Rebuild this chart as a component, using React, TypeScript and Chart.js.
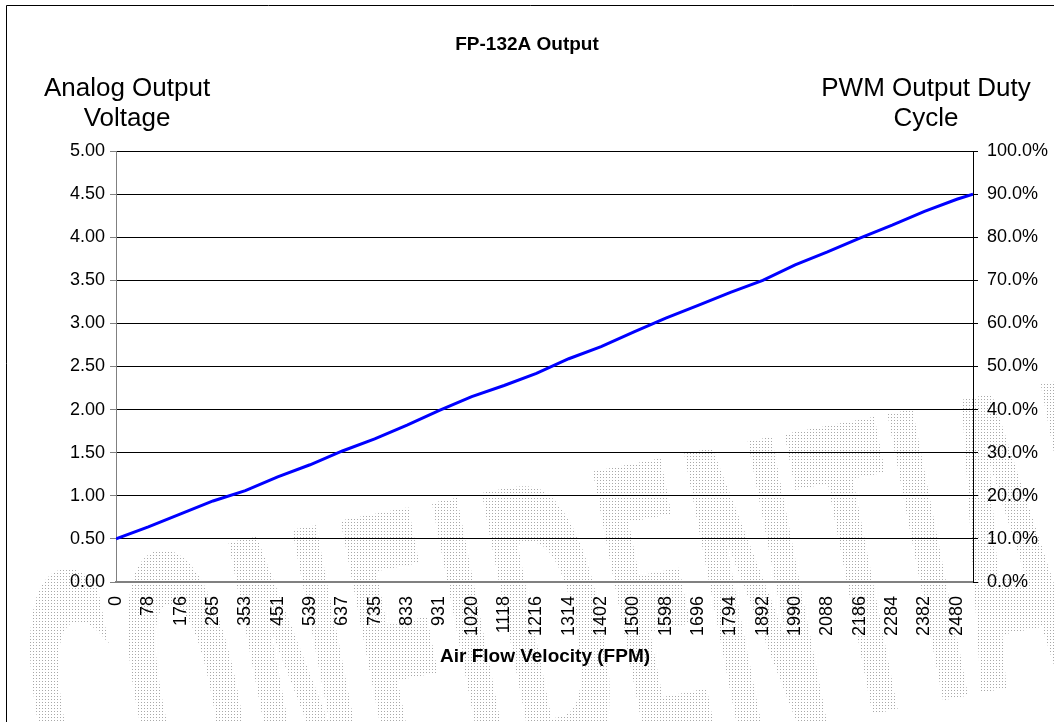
import React, { useEffect, useRef } from 'react';
import { Chart, registerables } from 'chart.js';

Chart.register(...registerables);

// ---- Data ----
const chartTitle = 'FP-132A Output';
const leftAxisTitle = ['Analog Output', 'Voltage'];
const rightAxisTitle = ['PWM Output Duty', 'Cycle'];
const xAxisTitle = 'Air Flow Velocity (FPM)';
const watermarkText = 'CONFIDENTIAL';

// Category tick labels (FPM), one per labelled category slot
const xTickLabels = [
  '0', '78', '176', '265', '353', '451', '539', '637', '735', '833', '931',
  '1020', '1118', '1216', '1314', '1402', '1500', '1598', '1696', '1794',
  '1892', '1990', '2088', '2186', '2284', '2382', '2480',
];

// Position of each sample, in labelled-category slots (last sample sits half a slot past 2480)
const samplePositions = [
  0, 1, 2, 3, 4, 5, 6, 7, 8, 9, 10, 11, 12, 13, 14, 15, 16, 17, 18, 19, 20,
  21, 22, 23, 24, 25, 26, 26.5,
];

// Analog output voltage read at each sample
const outputVoltage = [
  0.5, 0.64, 0.79, 0.94, 1.06, 1.22, 1.36, 1.52, 1.66, 1.82, 1.99, 2.15,
  2.28, 2.42, 2.59, 2.73, 2.9, 3.06, 3.21, 3.36, 3.5, 3.68, 3.83, 3.99,
  4.14, 4.3, 4.44, 4.5,
];

const voltageMin = 0;
const voltageMax = 5;
const voltageStep = 0.5;
const dutyMin = 0;
const dutyMax = 100;
const dutyStep = 10;

const FONT = '"Liberation Sans", Arial, sans-serif';

const decorPlugin = {
  id: 'decor',
  beforeDraw(chart: any) {
    const ctx: CanvasRenderingContext2D = chart.ctx;
    const w = chart.width;
    const h = chart.height;
    ctx.save();
    ctx.fillStyle = '#ffffff';
    ctx.fillRect(0, 0, w, h);

    // stippled watermark
    const off = document.createElement('canvas');
    off.width = w;
    off.height = h;
    const o = off.getContext('2d') as CanvasRenderingContext2D;
    o.translate(60, 872);
    o.rotate((-11 * Math.PI) / 180);
    o.font = 'bold 100px "Liberation Sans Narrow", "DejaVu Sans Condensed", sans-serif';
    const mw = o.measureText(watermarkText).width;
    o.scale(1130 / mw, 4.0);
    o.fillStyle = '#000';
    o.textBaseline = 'alphabetic';
    o.fillText(watermarkText, 0, 0);
    o.setTransform(1, 0, 0, 1, 0, 0);
    o.globalCompositeOperation = 'source-in';
    const tile = document.createElement('canvas');
    tile.width = 3;
    tile.height = 3;
    const t = tile.getContext('2d') as CanvasRenderingContext2D;
    t.fillStyle = '#a8a8a8';
    t.fillRect(0, 0, 1, 1);
    const pat = o.createPattern(tile, 'repeat');
    if (pat) o.fillStyle = pat;
    o.fillRect(0, 0, w, h);
    ctx.drawImage(off, 0, 0);

    // chart border (top/left visible)
    ctx.strokeStyle = '#000';
    ctx.lineWidth = 1;
    ctx.beginPath();
    ctx.moveTo(6.5, h);
    ctx.lineTo(6.5, 5.5);
    ctx.lineTo(w, 5.5);
    ctx.stroke();

    // titles
    ctx.fillStyle = '#000';
    ctx.textAlign = 'center';
    ctx.textBaseline = 'middle';
    ctx.font = `bold 19px ${FONT}`;
    ctx.fillText(chartTitle, 527, 45);
    ctx.font = `26px ${FONT}`;
    ctx.fillText(leftAxisTitle[0], 127, 89);
    ctx.fillText(leftAxisTitle[1], 127, 119);
    ctx.fillText(rightAxisTitle[0], 926, 89);
    ctx.fillText(rightAxisTitle[1], 926, 119);
    ctx.font = `bold 19px ${FONT}`;
    ctx.fillText(xAxisTitle, 545, 657);
    ctx.restore();
  },
};

export default function App() {
  const ref = useRef<HTMLCanvasElement | null>(null);

  useEffect(() => {
    if (!ref.current) return;
    const tickFont = { family: FONT, size: 18 };
    const chart = new Chart(ref.current, {
      type: 'line',
      data: {
        datasets: [
          {
            label: 'Analog Output Voltage',
            data: samplePositions.map((x, i) => ({ x, y: outputVoltage[i] })),
            borderColor: '#0000ff',
            borderWidth: 3,
            pointRadius: 0,
            tension: 0,
            fill: false,
            yAxisID: 'y',
          },
        ],
      },
      options: {
        responsive: false,
        animation: false,
        events: [],
        layout: { padding: { top: 151, left: 0, right: 0, bottom: 0 } },
        plugins: {
          legend: { display: false },
          title: { display: false },
          tooltip: { enabled: false },
        },
        scales: {
          x: {
            type: 'linear',
            position: 'bottom',
            min: 0,
            max: samplePositions[samplePositions.length - 1],
            afterBuildTicks: (s: any) => {
              s.ticks = xTickLabels.map((_, i) => ({ value: i }));
            },
            afterFit: (s: any) => {
              s.height = 140;
            },
            grid: { display: false, drawTicks: false },
            border: { display: true, color: '#808080', width: 2 },
            ticks: {
              autoSkip: false,
              minRotation: 90,
              maxRotation: 90,
              padding: 14,
              color: '#000',
              font: tickFont,
              callback: (v: any) => xTickLabels[v] ?? '',
            },
          },
          y: {
            position: 'left',
            min: voltageMin,
            max: voltageMax,
            afterFit: (s: any) => {
              s.width = 116;
            },
            ticks: {
              stepSize: voltageStep,
              padding: 5,
              color: '#000',
              font: tickFont,
              callback: (v: any) => Number(v).toFixed(2),
            },
            grid: {
              color: (c: any) => (c.tick && c.tick.value === 0 ? 'rgba(0,0,0,0)' : '#000'),
              tickColor: '#808080',
              tickLength: 6,
              lineWidth: 1,
            },
            border: { color: '#808080', width: 1 },
          },
          y2: {
            position: 'right',
            min: dutyMin,
            max: dutyMax,
            afterFit: (s: any) => {
              s.width = 81;
            },
            ticks: {
              stepSize: dutyStep,
              padding: 9,
              color: '#000',
              font: tickFont,
              callback: (v: any) => Number(v).toFixed(1) + '%',
            },
            grid: { drawOnChartArea: false, tickLength: 5, color: '#000' },
            border: { color: '#000', width: 1 },
          },
        },
      },
      plugins: [decorPlugin],
    } as any);
    return () => chart.destroy();
  }, []);

  return (
    <div style={{ position: 'absolute', left: 0, top: 0, width: 1054, height: 722 }}>
      <canvas ref={ref} width={1054} height={722} style={{ display: 'block' }} />
    </div>
  );
}
